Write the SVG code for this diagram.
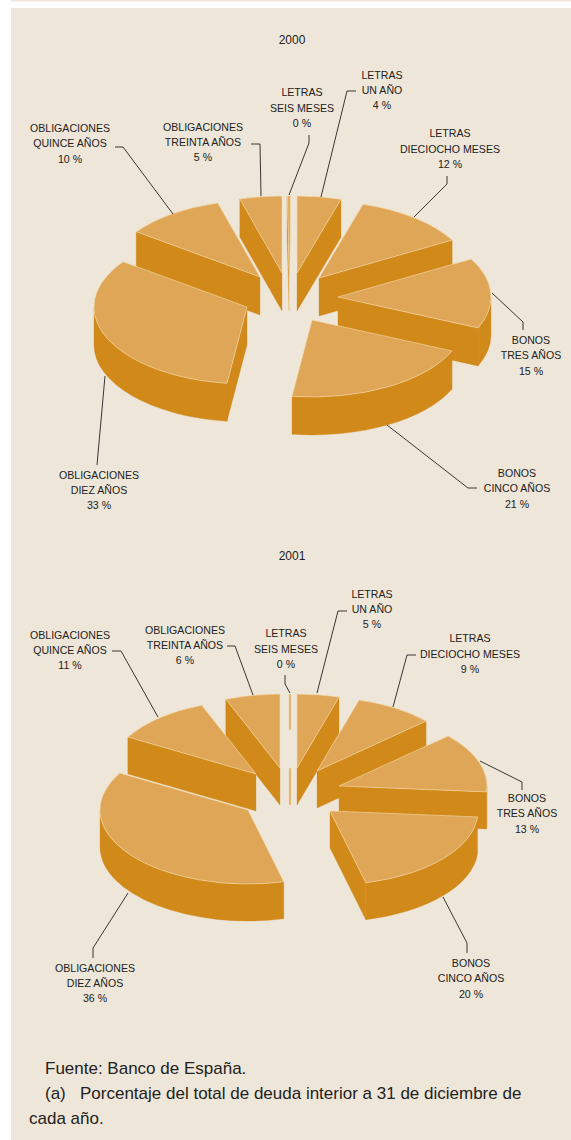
<svg xmlns="http://www.w3.org/2000/svg" width="571" height="1140" viewBox="0 0 571 1140">
<style>
.top{fill:#E0A657;stroke:#F4DDAF;stroke-width:0.6;stroke-linejoin:round}
.side{fill:#D1891A;stroke:#D1891A;stroke-width:0.3}
.lbl{font-family:"Liberation Sans",Arial,sans-serif;font-size:10.6px;fill:#222;text-anchor:middle}
.ttl{font-family:"Liberation Sans",Arial,sans-serif;font-size:12px;fill:#222;text-anchor:middle}
.foot{font-family:"Liberation Sans",Arial,sans-serif;font-size:17px;fill:#222}
.ld{fill:none;stroke:#222;stroke-width:0.9}
</style>
<rect x="0" y="0" width="571" height="1140" fill="#FFFFFF"/>
<rect x="11" y="0" width="560" height="1.5" fill="#EEE6D8"/>
<rect x="11" y="8" width="560" height="1132" fill="#EEE6D8"/>

<text class="ttl" x="292" y="44">2000</text>

<g id="p2000-seis">
<path class="side" d="M289,273 L287.1,196 L287.1,234 L289,311 Z"/>
<path class="top" d="M289,273 L287.6,196 L290.4,196 L290.4,234 L289,311 Z"/>
<text class="lbl" x="302" y="96">LETRAS</text><text class="lbl" x="302" y="112">SEIS MESES</text><text class="lbl" x="302" y="127">0 %</text>
</g>
<g id="p2000-unano">
<path class="side" d="M297,273 L340.97,199.25 L340.97,237.25 L297,311 Z"/>
<path class="top" d="M297,273 L297,196 A153,77 0 0 1 340.97,199.25 Z"/>
<text class="lbl" x="382" y="79">LETRAS</text><text class="lbl" x="382" y="94">UN AÑO</text><text class="lbl" x="382" y="109">4 %</text>
</g>
<g id="p2000-treinta">
<path class="side" d="M282,273 L239.83,198.98 L239.83,236.98 L282,311 Z"/>
<path class="top" d="M282,273 L239.83,198.98 A153,77 0 0 1 282,196 Z"/>
<text class="lbl" x="203" y="131">OBLIGACIONES</text><text class="lbl" x="203" y="146">TREINTA AÑOS</text><text class="lbl" x="203" y="161">5 %</text>
</g>
<g id="p2000-quince">
<path class="side" d="M260,277 L136.22,231.74 L136.22,269.74 L260,315 Z"/>
<path class="top" d="M260,277 L136.22,231.74 A153,77 0 0 1 217.83,202.98 Z"/>
<text class="lbl" x="70" y="132">OBLIGACIONES</text><text class="lbl" x="70" y="147">QUINCE AÑOS</text><text class="lbl" x="70" y="163">10 %</text>
</g>
<g id="p2000-dieciocho">
<path class="side" d="M319,278 L452.17,240.09 L452.17,278.09 L319,316 Z"/>
<path class="top" d="M319,278 L362.97,204.25 A153,77 0 0 1 452.17,240.09 Z"/>
<text class="lbl" x="450" y="137">LETRAS</text><text class="lbl" x="450" y="153">DIECIOCHO MESES</text><text class="lbl" x="450" y="168">12 %</text>
</g>
<g id="p2000-tres">
<path class="side" d="M338,297 L478.1,327.95 L478.1,365.95 L338,335 Z"/>
<path class="side" d="M491,297 A153,77 0 0 1 478.1,327.95 L478.1,365.95 A153,77 0 0 0 491,335 Z"/>
<path class="top" d="M338,297 L471.17,259.09 A153,77 0 0 1 478.1,327.95 Z"/>
<text class="lbl" x="531" y="344">BONOS</text><text class="lbl" x="531" y="359">TRES AÑOS</text><text class="lbl" x="531" y="375">15 %</text>
</g>
<g id="p2000-diez">
<path class="side" d="M247,307 L227.03,383.34 L227.03,421.34 L247,345 Z"/>
<path class="side" d="M227.03,383.34 A153,77 0 0 1 94,307 L94,345 A153,77 0 0 0 227.03,421.34 Z"/>
<path class="top" d="M247,307 L227.03,383.34 A153,77 0 0 1 123.22,261.74 Z"/>
<text class="lbl" x="99" y="479">OBLIGACIONES</text><text class="lbl" x="99" y="494">DIEZ AÑOS</text><text class="lbl" x="99" y="509">33 %</text>
</g>
<g id="p2000-cinco">
<path class="side" d="M452.1,350.95 A153,77 0 0 1 292.03,396.34 L292.03,434.34 A153,77 0 0 0 452.1,388.95 Z"/>
<path class="top" d="M312,320 L452.1,350.95 A153,77 0 0 1 292.03,396.34 Z"/>
<text class="lbl" x="517" y="477">BONOS</text><text class="lbl" x="517" y="492">CINCO AÑOS</text><text class="lbl" x="517" y="508">21 %</text>
</g>

<text class="ttl" x="292" y="560">2001</text>

<g id="p2001-seis">
<path class="top" d="M289,694 L291,694 L291,730 L289,730 Z"/>
<path class="top" d="M289,768 L291,768 L291,805 L289,805 Z"/>
<text class="lbl" x="286" y="637">LETRAS</text><text class="lbl" x="286" y="653">SEIS MESES</text><text class="lbl" x="286" y="668">0 %</text>
</g>
<g id="p2001-unano">
<path class="side" d="M297,768 L339.03,697.05 L339.03,734.05 L297,805 Z"/>
<path class="top" d="M297,768 L297,694 A148,74 0 0 1 339.03,697.05 Z"/>
<text class="lbl" x="372" y="598">LETRAS</text><text class="lbl" x="372" y="613">UN AÑO</text><text class="lbl" x="372" y="628">5 %</text>
</g>
<g id="p2001-treinta">
<path class="side" d="M280,768 L225.76,699.15 L225.76,736.15 L280,805 Z"/>
<path class="top" d="M280,768 L225.76,699.15 A148,74 0 0 1 280,694 Z"/>
<text class="lbl" x="185" y="634">OBLIGACIONES</text><text class="lbl" x="185" y="649">TREINTA AÑOS</text><text class="lbl" x="185" y="664">6 %</text>
</g>
<g id="p2001-quince">
<path class="side" d="M256,774 L127.83,737 L127.83,774 L256,811 Z"/>
<path class="top" d="M256,774 L127.83,737 A148,74 0 0 1 201.76,705.15 Z"/>
<text class="lbl" x="70" y="639">OBLIGACIONES</text><text class="lbl" x="70" y="654">QUINCE AÑOS</text><text class="lbl" x="70" y="669">11 %</text>
</g>
<g id="p2001-dieciocho">
<path class="side" d="M317,771 L426.12,721.01 L426.12,758.01 L317,808 Z"/>
<path class="top" d="M317,771 L359.03,700.05 A148,74 0 0 1 426.12,721.01 Z"/>
<text class="lbl" x="470" y="642">LETRAS</text><text class="lbl" x="470" y="658">DIECIOCHO MESES</text><text class="lbl" x="470" y="673">9 %</text>
</g>
<g id="p2001-tres">
<path class="side" d="M339,786 L486.53,791.93 L486.53,828.93 L339,823 Z"/>
<path class="side" d="M487,786 A148,74 0 0 1 486.53,791.93 L486.53,828.93 A148,74 0 0 0 487,823 Z"/>
<path class="top" d="M339,786 L448.12,736.01 A148,74 0 0 1 486.53,791.93 Z"/>
<text class="lbl" x="527" y="802">BONOS</text><text class="lbl" x="527" y="817">TRES AÑOS</text><text class="lbl" x="527" y="833">13 %</text>
</g>
<g id="p2001-diez">
<path class="side" d="M283.8,881.8 A148,74 0 0 1 100,810 L100,847 A148,74 0 0 0 283.8,918.8 Z"/>
<path class="top" d="M248,810 L283.8,881.8 A148,74 0 0 1 119.83,773 Z"/>
<text class="lbl" x="95" y="972">OBLIGACIONES</text><text class="lbl" x="95" y="987">DIEZ AÑOS</text><text class="lbl" x="95" y="1002">36 %</text>
</g>
<g id="p2001-cinco">
<path class="side" d="M330,811 L365.8,882.8 L365.8,919.8 L330,848 Z"/>
<path class="side" d="M477.53,816.93 A148,74 0 0 1 365.8,882.8 L365.8,919.8 A148,74 0 0 0 477.53,853.93 Z"/>
<path class="top" d="M330,811 L477.53,816.93 A148,74 0 0 1 365.8,882.8 Z"/>
<text class="lbl" x="471" y="967">BONOS</text><text class="lbl" x="471" y="982">CINCO AÑOS</text><text class="lbl" x="471" y="998">20 %</text>
</g>

<g id="connectors">
<path class="ld" d="M115,147 L123,147 L173,214"/>
<path class="ld" d="M251,144 L260,144 L261,196"/>
<path class="ld" d="M309,135 L309,143 L289,195"/>
<path class="ld" d="M356,91 L347,91 L321,197"/>
<path class="ld" d="M447,176 L447,184 L414,217"/>
<path class="ld" d="M492,293 L523,322 L523,330"/>
<path class="ld" d="M387,425 L468,488 L477,488"/>
<path class="ld" d="M97,465 L105,376"/>
<path class="ld" d="M112,651 L121,651 L158,717"/>
<path class="ld" d="M227,646 L235,646 L253,695"/>
<path class="ld" d="M285,675 L285,684 L290,693"/>
<path class="ld" d="M347,611 L338,611 L317,693"/>
<path class="ld" d="M416,655 L407,655 L393,707"/>
<path class="ld" d="M480,761 L522,782 L522,790"/>
<path class="ld" d="M443,897 L467,943 L467,953"/>
<path class="ld" d="M93,958 L93,948 L128,893"/>
</g>

<g id="footer">
<text class="foot" x="45" y="1074">Fuente: Banco de España.</text>
<text class="foot" x="45" y="1099">(a)</text>
<text class="foot" x="80" y="1099">Porcentaje del total de deuda interior a 31 de diciembre de</text>
<text class="foot" x="29" y="1124">cada año.</text>
</g>
</svg>
